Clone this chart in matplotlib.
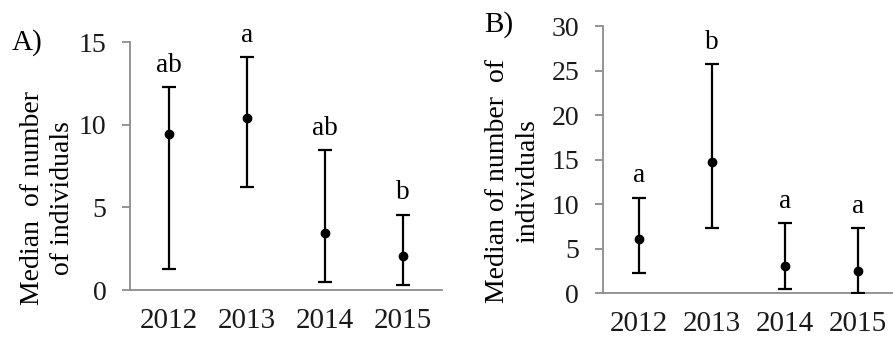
import matplotlib
matplotlib.use("Agg")
import matplotlib.pyplot as plt

plt.rcParams["font.family"] = ["Liberation Serif", "DejaVu Serif"]

years = ["2012", "2013", "2014", "2015"]

# panel A
median_a = [9.45, 10.4, 3.45, 2.05]
upper_a = [12.25, 14.1, 8.45, 4.55]
lower_a = [1.3, 6.2, 0.5, 0.3]
letters_a = ["ab", "a", "ab", "b"]

# panel B
median_b = [6.1, 14.75, 3.05, 2.45]
upper_b = [10.75, 25.75, 7.9, 7.3]
lower_b = [2.3, 7.3, 0.45, 0.0]
letters_b = ["a", "b", "a", "a"]

SPINE = "#8c8c8c"


def draw_panel(ax, med, lo, hi, letters, ymax, step):
    x = range(len(years))
    err = [[m - l for m, l in zip(med, lo)], [h - m for m, h in zip(med, hi)]]
    ax.errorbar(x, med, yerr=err, fmt="o", color="black", ms=6,
                elinewidth=1.6, capsize=5, capthick=1.6, zorder=3)
    for xi, h, t in zip(x, hi, letters):
        ax.annotate(t, (xi, h), xytext=(0, 11), textcoords="offset points",
                    ha="center", va="baseline", fontsize=19.5)
    ax.set_xlim(-0.5, 3.5)
    ax.set_ylim(0, ymax)
    ax.set_yticks(range(0, ymax + 1, step))
    ax.set_xticks(list(x))
    ax.set_xticklabels(years)
    for s in ("top", "right"):
        ax.spines[s].set_visible(False)
    for s in ("left", "bottom"):
        ax.spines[s].set_color(SPINE)
        ax.spines[s].set_linewidth(1.3)
    ax.tick_params(axis="y", length=6, width=1.3, color=SPINE, labelsize=20, pad=11)
    ax.tick_params(axis="x", length=0, labelsize=21, pad=13)
    for lab in ax.get_xticklabels() + ax.get_yticklabels():
        lab.set_color("#1a1a1a")
    ax.patch.set_visible(False)


fig = plt.figure(figsize=(8.93, 3.38), dpi=100)

ax_a = fig.add_axes([130 / 893, 48 / 338, 312 / 893, 248 / 338])
draw_panel(ax_a, median_a, lower_a, upper_a, letters_a, 15, 5)

ax_b = fig.add_axes([602.7 / 893, 44.7 / 338, 292 / 893, 267.3 / 338])
draw_panel(ax_b, median_b, lower_b, upper_b, letters_b, 30, 5)

fig.text(47.5 / 893, 1 - 198 / 338, "Median  of number\nof individuals",
         rotation=90, ha="center", va="center", multialignment="center",
         fontsize=20, linespacing=1.25)
fig.text(513 / 893, 1 - 181 / 338, "Median of number  of\nindividuals",
         rotation=90, ha="center", va="center", multialignment="center",
         fontsize=20, linespacing=1.3)

fig.text(27 / 893, 1 - 43 / 338, "A)", ha="center", va="center", fontsize=21)
fig.text(499 / 893, 1 - 25 / 338, "B)", ha="center", va="center", fontsize=21)

fig.savefig("out.png", dpi=100)
